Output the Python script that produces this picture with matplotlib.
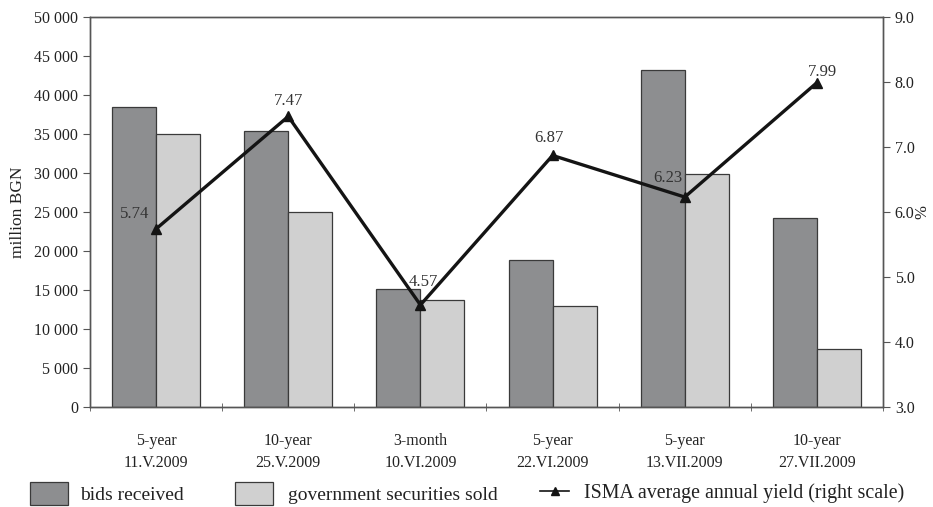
import matplotlib
matplotlib.use("Agg")
import matplotlib.pyplot as plt
import numpy as np
from matplotlib.patches import Patch
from matplotlib.lines import Line2D

plt.rcParams['font.family'] = ['Liberation Serif', 'DejaVu Serif']

# data
categories = ["5-year\n11.V.2009", "10-year\n25.V.2009", "3-month\n10.VI.2009",
              "5-year\n22.VI.2009", "5-year\n13.VII.2009", "10-year\n27.VII.2009"]
bids_received = [38500, 35400, 15100, 18800, 43200, 24200]
securities_sold = [35000, 25000, 13700, 12900, 29900, 7500]
isma_yield = [5.74, 7.47, 4.57, 6.87, 6.23, 7.99]
# label offsets (pixels) for the yield values
label_offsets = [(-21, 7), (0, 7), (3, 15), (-4, 9), (-17, 11), (6, 3)]

dark = "#8d8e90"
light = "#d0d0d0"
edge = "#3a3a3a"
axis_col = "#555555"
text_col = "#222222"

fig = plt.figure(figsize=(9.33, 5.07), dpi=100)
ax = fig.add_axes([90 / 933, 1 - 407 / 507, (883 - 90) / 933, (407 - 17) / 507])

x = np.arange(len(categories))
w = 0.333
ax.bar(x - w / 2, bids_received, w, color=dark, edgecolor=edge, linewidth=0.9)
ax.bar(x + w / 2, securities_sold, w, color=light, edgecolor=edge, linewidth=0.9)

ax.set_xlim(-0.5, len(categories) - 0.5)
ax.set_ylim(0, 50000)
ax.set_yticks(np.arange(0, 50001, 5000))
ax.set_yticklabels([f"{v:,}".replace(",", " ") for v in range(0, 50001, 5000)])
ax.set_xticks(x)
ax.set_xticklabels(categories, linespacing=1.45)
ax.set_xticks(np.arange(-0.5, len(categories)), minor=True)
ax.tick_params(axis='x', which='major', length=0, pad=19, labelsize=11.5, colors=text_col)
ax.tick_params(axis='x', which='minor', direction='inout', length=6, color=axis_col)
ax.tick_params(axis='y', direction='out', length=5, color=axis_col, labelsize=11.5,
               labelcolor=text_col)
ax.set_ylabel("million BGN", fontsize=12.5, color=text_col, labelpad=6)

ax2 = ax.twinx()
ax2.plot(x, isma_yield, color="#141414", linewidth=2.4, marker='^', markersize=7.5)
ax2.set_ylim(3.0, 9.0)
ax2.set_yticks(np.arange(3.0, 9.01, 1.0))
ax2.set_yticklabels([f"{v:.1f}" for v in np.arange(3.0, 9.01, 1.0)])
ax2.tick_params(axis='y', direction='out', length=5, color=axis_col, labelsize=11.5,
                labelcolor=text_col)
# right axis label, kept inside the figure edge
fig.text(922 / 933, 1 - 212 / 507, "%", rotation=90, ha='center', va='center',
         fontsize=12, color=text_col)

for xi, yv, off in zip(x, isma_yield, label_offsets):
    ax2.annotate(f"{yv:.2f}", (xi, yv), xytext=off, textcoords='offset pixels',
                 ha='center', va='bottom', fontsize=12, color="#333333")

for a in (ax, ax2):
    for s in a.spines.values():
        s.set_color(axis_col)
        s.set_linewidth(1.0)

# legend, three separate entries along the bottom
leg_kw = dict(frameon=False, borderpad=0, borderaxespad=0, loc='center left',
              labelcolor=text_col)
fig.legend(handles=[Patch(facecolor=dark, edgecolor=edge, linewidth=0.9)],
           labels=["bids received"], bbox_to_anchor=(30 / 933, 0.027), fontsize=14,
           handlelength=1.95, handleheight=1.4, handletextpad=0.6, **leg_kw)
fig.legend(handles=[Patch(facecolor=light, edgecolor=edge, linewidth=0.9)],
           labels=["government securities sold"], bbox_to_anchor=(235 / 933, 0.027), fontsize=14,
           handlelength=1.95, handleheight=1.4, handletextpad=0.8, **leg_kw)
fig.legend(handles=[Line2D([], [], color="#141414", linewidth=1.2, marker='^', markersize=6)],
           labels=["ISMA average annual yield (right scale)"], bbox_to_anchor=(540 / 933, 0.027),
           fontsize=14.4, handlelength=1.45, handletextpad=0.75, **leg_kw)

fig.savefig("out.png", dpi=100)
